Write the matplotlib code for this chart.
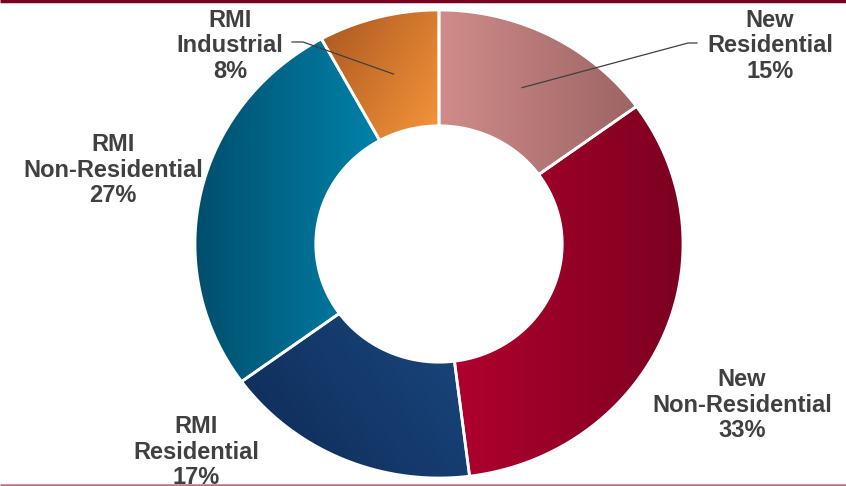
import numpy as np
import matplotlib
matplotlib.use("Agg")
import matplotlib.pyplot as plt
from matplotlib.patches import Polygon
from matplotlib.colors import to_rgb

# ---------------------------------------------------------------------------
# Datos
# ---------------------------------------------------------------------------
categorias = ['New\nResidential', 'New\nNon-Residential', 'RMI\nResidential',
              'RMI\nNon-Residential', 'RMI\nIndustrial']
porcentajes = [15, 33, 17, 27, 8]

# degradado (color inicial, color final, ángulo en grados; y hacia abajo)
degradados = [
    ('#d08c8a', '#9c6464', 0),
    ('#b0002e', '#7c0020', 0),
    ('#0e2a55', '#1a4880', -30),
    ('#004e6c', '#0082aa', 0),
    ('#a85620', '#f7963a', 35),
]

# ---------------------------------------------------------------------------
# Geometría (coordenadas en píxeles)
# ---------------------------------------------------------------------------
W, H = 846, 486
cx, cy = 439, 244
rx, ry = 244, 234
hueco = 0.505

fig = plt.figure(figsize=(W / 100, H / 100), dpi=100)
ax = fig.add_axes([0, 0, 1, 1])
ax.set_xlim(0, W)
ax.set_ylim(H, 0)
ax.axis('off')


def punto(ang, r):
    a = np.radians(ang)
    return cx + rx * r * np.cos(a), cy - ry * r * np.sin(a)


def sector(a0, a1):
    ts = np.linspace(a0, a1, 200)
    ext = [punto(t, 1.0) for t in ts]
    inn = [punto(t, hueco) for t in ts[::-1]]
    return np.array(ext + inn)


total = sum(porcentajes)
inicio = 90.0
medios = []
for v, (c0, c1, ang) in zip(porcentajes, degradados):
    barrido = 360.0 * v / total
    a0, a1 = inicio, inicio - barrido
    medios.append((a0 + a1) / 2)
    pts = sector(a0, a1)
    poly = Polygon(pts, closed=True, facecolor='none', edgecolor='none')
    ax.add_patch(poly)

    x0, x1 = pts[:, 0].min(), pts[:, 0].max()
    y0, y1 = pts[:, 1].min(), pts[:, 1].max()
    n = 200
    # gy = 0 arriba en pantalla, 1 abajo
    gx, gy = np.meshgrid(np.linspace(0, 1, n), np.linspace(0, 1, n))
    d = np.radians(ang)
    t = gx * np.cos(d) + gy * np.sin(d)
    t = (t - t.min()) / (t.max() - t.min())
    ca, cb = np.array(to_rgb(c0)), np.array(to_rgb(c1))
    img = ca[None, None, :] * (1 - t[..., None]) + cb[None, None, :] * t[..., None]
    # fila i en y = y0 + i*(y1-y0)/n (y crece hacia abajo)
    im = ax.imshow(img, extent=(x0, x1, y0, y1), origin='lower',
                   interpolation='bilinear', zorder=1)
    im.set_clip_path(poly)

    ax.add_patch(Polygon(pts, closed=True, facecolor='none',
                         edgecolor='white', linewidth=2, zorder=2))
    inicio = a1

ax.set_xlim(0, W)
ax.set_ylim(H, 0)

# ---------------------------------------------------------------------------
# Etiquetas
# ---------------------------------------------------------------------------
pos_etiquetas = [(770, 46), (742, 405), (196, 452), (113, 170), (230, 46)]
fuente = dict(fontsize=17, fontweight='bold', color='#404040',
              family='Liberation Sans', ha='center', va='center',
              linespacing=1.12, zorder=4)
for nombre, v, (tx, ty) in zip(categorias, porcentajes, pos_etiquetas):
    ax.text(tx, ty, f"{nombre}\n{v}%", **fuente)

# líneas guía
guias = {0: [(697, 43), (688, 43)], 4: [(292, 42), (303, 42)]}
for i, tramo in guias.items():
    ex, ey = punto(medios[i], 0.75)
    xs = [tramo[0][0], tramo[1][0], ex]
    ys = [tramo[0][1], tramo[1][1], ey]
    ax.plot(xs, ys, color='#404040', linewidth=0.9, zorder=3)

# bordes superior e inferior
ax.plot([0, W], [1, 1], color='#7a0022', linewidth=2.5, zorder=5,
        solid_capstyle='butt')
ax.plot([0, W], [484.5, 484.5], color='#c0707a', linewidth=1.8, zorder=5,
        solid_capstyle='butt')

fig.savefig('out.png', dpi=100)
